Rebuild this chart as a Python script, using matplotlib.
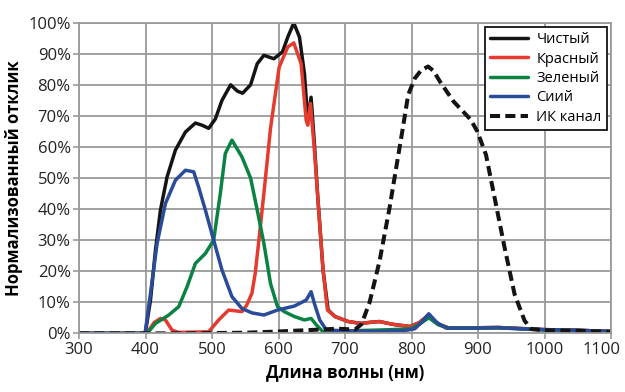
"""
Spectral response of the camera channels (normalised), recreated from a picture.
"""
import matplotlib.pyplot as plt
from matplotlib.ticker import FuncFormatter, MultipleLocator

plt.rcParams["font.family"] = ["Open Sans", "DejaVu Sans"]

# --- data (wavelength nm, response %) ---
clear_nm = [300, 398, 400, 407.5, 415, 422.5, 432.5, 445, 460, 475, 485, 495,
            505, 515, 528, 538, 546, 558, 568, 578, 593, 606, 614, 623, 631.5,
            639, 644, 649, 654, 659, 667, 674.6, 685, 705, 724, 740, 752, 772,
            798, 812, 826, 840, 855, 900, 930, 960, 1000, 1050, 1100]
clear_val = [0, 0, 0.5, 10.7, 26.8, 39.7, 50.4, 59, 64.8, 67.7, 67, 66,
             69, 75, 80, 78, 77.3, 80, 86.8, 89.5, 88.4, 90.6, 95.4, 99.9, 95.4,
             83.6, 68.6, 76, 61, 44, 20.4, 7.5, 5.4, 3.8, 3.2, 3.6, 3.8, 2.9,
             2.2, 3.5, 6, 3, 1.8, 1.8, 1.9, 1.6, 1.2, 1.0, 0.6]

red_nm = [300, 400, 405, 413, 422.5, 430, 440, 450, 495, 510, 525, 545, 552,
          560, 565, 570, 578, 588, 601, 614, 623, 634, 641.6, 644, 648, 654,
          659, 667, 673.6, 685, 705, 724, 740, 752, 772, 798, 812, 826, 840,
          855, 900, 930, 960, 1000, 1050, 1100]
red_val = [0, 0, 1, 3.5, 4.8, 4.3, 1, 0.3, 0.5, 4.3, 7.5, 7, 9,
           12.9, 19.3, 29, 45, 66, 85.7, 92.2, 93.5, 86.8, 68.6, 67, 74, 59,
           44, 20.4, 7.5, 5.4, 3.8, 3.2, 3.6, 3.8, 2.9, 2.2, 3.5, 5.8, 3,
           1.8, 1.8, 1.9, 1.6, 1.2, 1.0, 0.6]

green_nm = [300, 402.5, 415, 435, 450, 462.5, 475, 490, 502.5, 512.5, 520, 530,
            545, 558, 568, 578, 588, 598.5, 608.6, 624, 639, 649, 657, 667, 700,
            740, 770, 800, 812, 826, 840, 855, 900, 930, 960, 1000, 1050, 1100]
green_val = [0, 0, 3.2, 5.9, 8.6, 15, 22.5, 25.7, 30, 45, 57.9, 62.2,
             56.8, 50, 39.7, 29, 16, 8.6, 7, 5.4, 4.3, 4.8, 2.7, 0.5, 0.8,
             1.0, 1.2, 1.5, 3, 5, 2.8, 1.7, 1.7, 1.8, 1.5, 1.1, 0.9, 0.5]

blue_nm = [300, 399, 400, 407.5, 417.5, 430, 445, 460, 472.5, 480, 490, 502.5,
           515, 530, 545, 560, 578, 598.5, 624, 641.6, 649, 654, 662, 672, 700,
           750, 790, 805, 815, 826, 838, 852, 900, 930, 960, 1000, 1050, 1100]
blue_val = [0, 0, 1, 12.9, 29, 41.8, 49.3, 52.5, 52, 47, 39.7, 30,
            20.4, 11.8, 8, 6.6, 5.9, 7.5, 8.8, 10.7, 13.4, 9.6, 4.3, 1.1, 0.8,
            0.6, 0.9, 1.5, 3.5, 6.3, 3.5, 1.7, 1.7, 1.8, 1.5, 1.2, 1.0, 0.6]

ir_nm = [300, 450, 550, 600, 650, 690, 715, 725, 737, 752, 767, 777, 787, 795,
         805, 815, 825, 833, 843, 863, 889, 899, 912, 924, 940, 955, 970, 980,
         1000, 1050, 1100]
ir_val = [0, 0, 0.2, 0.6, 1.1, 1.5, 1.2, 3, 10, 23.3, 40.4, 53.3, 66.1, 76.8,
          82.1, 84.8, 85.9, 84.5, 81, 74.7, 68.8, 65, 57.5, 44.7, 27.6, 12.6, 4.1, 1.4,
          1.0, 0.8, 0.5]

SERIES = [
    ("Чистый", clear_nm, clear_val, "#141414"),
    ("Красный", red_nm, red_val, "#e53a2e"),
    ("Зеленый", green_nm, green_val, "#0a8243"),
    ("Сиий", blue_nm, blue_val, "#2a4a9a"),
]

GRID = "#9a9a9a"
X_MAX = 1100

fig = plt.figure(figsize=(6.25, 3.92), dpi=100)
ax = fig.add_axes([0.1264, 0.1496, 0.8512, 0.7925])

for label, nm, val, color in SERIES:
    ax.plot(nm, val, color=color, lw=2.5, label=label,
            solid_joinstyle="round", solid_capstyle="round")
ax.plot(ir_nm, ir_val, color="#141414", lw=2.9, ls=(0, (2.5, 1.3)),
        label="ИК канал")

ax.set_xlim(300, X_MAX)
ax.set_ylim(0, 100)
ax.xaxis.set_major_locator(MultipleLocator(100))
ax.yaxis.set_major_locator(MultipleLocator(10))
# the last x label is drawn separately, pulled in from the figure edge
ax.xaxis.set_major_formatter(
    FuncFormatter(lambda v, _: "" if v >= X_MAX else f"{v:.0f}"))
ax.yaxis.set_major_formatter(FuncFormatter(lambda v, _: f"{v:.0f}%"))
ax.grid(True, color=GRID, lw=1.3)
ax.set_axisbelow(True)
for side in ["left", "bottom", "top", "right"]:
    ax.spines[side].set_color(GRID)
    ax.spines[side].set_linewidth(1.3)
ax.tick_params(colors=GRID, labelcolor="#222222", labelsize=12, length=4,
               width=1.2, pad=2)
ax.annotate(f"{X_MAX}", xy=(X_MAX, 0), xycoords=("data", "axes fraction"),
            xytext=(-7, -6), textcoords="offset points", ha="center", va="top",
            fontsize=12, color="#222222")

ax.set_xlabel("Длина волны (нм)", fontsize=12, fontweight="bold", labelpad=4)
ax.set_ylabel("Нормализованный отклик", fontsize=12, fontweight="bold", labelpad=4)

leg = ax.legend(loc="upper right", fontsize=10.5, handlelength=2.6,
                labelspacing=0.3, borderaxespad=0.3, fancybox=False,
                framealpha=1, borderpad=0.35, handletextpad=0.6)
leg.get_frame().set_edgecolor("#141414")
leg.get_frame().set_linewidth(1.3)

plt.savefig("out.png", dpi=100)
